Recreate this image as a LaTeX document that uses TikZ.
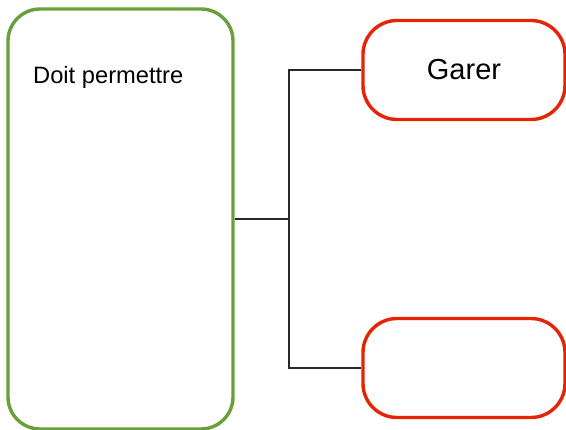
\documentclass[tikz,border=0pt]{standalone}
\usepackage{fontspec}
\setmainfont{Liberation Sans}
\usepackage{xcolor}
\usetikzlibrary{positioning}
\definecolor{boxgreen}{RGB}{106,160,60}
\definecolor{boxred}{RGB}{228,36,4}
\definecolor{linkgrey}{RGB}{40,40,40}
\tikzset{
main box/.style = { rectangle, draw = boxgreen, fill = white, line width = 3.4pt, inner sep = 0pt, minimum width = 225pt, minimum height = 420pt, rounded corners = 32pt },
task box/.style = { rectangle, draw = boxred, fill = white, line width = 3.4pt, inner sep = 0pt, minimum width = 202pt, minimum height = 99pt, rounded corners = 34pt, font = \fontsize{29}{34}\selectfont },
link/.style = { draw = linkgrey, line width = 2.4pt },
}

\begin{document}
\begin{tikzpicture}[x=1pt, y=-1pt]
      \useasboundingbox (0,0) rectangle (566,430);
      \node[main box] (need) at (120.5,219) {};
      \node[anchor=base west, inner sep=0pt, font=\fontsize{23.7}{28}\selectfont] (needtxt) at (33,84) {Doit permettre};
      \node[task box] (park) at (464,70) {Garer};
      \node[task box] (other) at (464,368) {};
      \coordinate (fork) at (289,219);
      \path [link] (need.east) -- (fork);
      \path [link] (park.west) -| (fork) |- (other.west);
    \end{tikzpicture}
\end{document}
